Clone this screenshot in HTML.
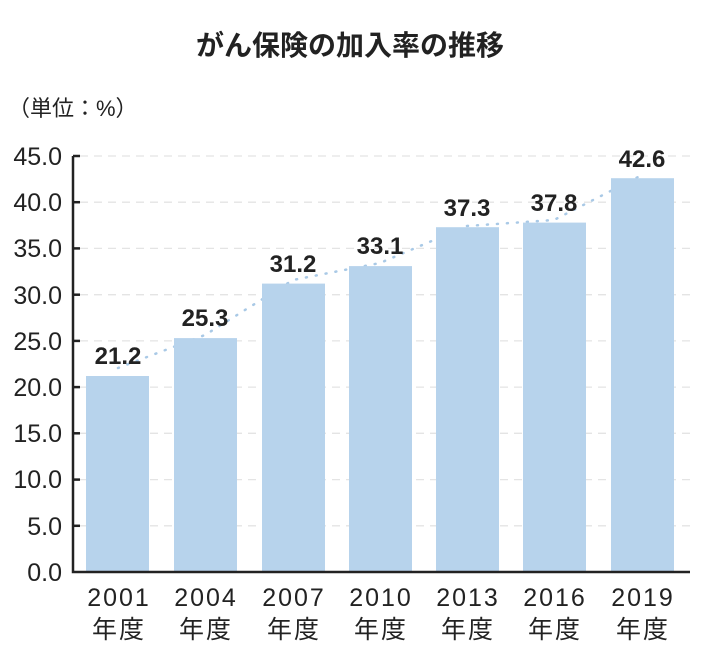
<!DOCTYPE html><html><head><meta charset="utf-8"><style>
body{margin:0;background:#fff;width:717px;height:654px;overflow:hidden}
svg text{font-family:"Liberation Sans","Noto Sans CJK JP",sans-serif;fill:#222}
</style></head><body>
<svg width="717" height="654" viewBox="0 0 717 654">
<text x="350" y="55" text-anchor="middle" font-size="28" font-weight="bold" fill="#111">がん保険の加入率の推移</text>
<text x="8" y="116" font-size="22" fill="#333">（単位：%）</text>
<g stroke="#e4e4e4" stroke-width="1.3" stroke-dasharray="8,6">
<line x1="80" x2="690" y1="156" y2="156"/><line x1="80" x2="690" y1="202.2" y2="202.2"/><line x1="80" x2="690" y1="248.4" y2="248.4"/><line x1="80" x2="690" y1="294.7" y2="294.7"/><line x1="80" x2="690" y1="340.9" y2="340.9"/><line x1="80" x2="690" y1="387.1" y2="387.1"/><line x1="80" x2="690" y1="433.3" y2="433.3"/><line x1="80" x2="690" y1="479.6" y2="479.6"/><line x1="80" x2="690" y1="525.8" y2="525.8"/>
</g>
<polyline fill="none" stroke="#a9c9e6" stroke-width="2.5" stroke-dasharray="1,9" stroke-linecap="round" points="118,368 205,335 293,280 380,263 467,226 554,220 642,175"/>
<g fill="#b7d3ec">
<rect x="86" y="376" width="63" height="196"/>
<rect x="174" y="338.1" width="63" height="233.9"/>
<rect x="262" y="283.6" width="63" height="288.4"/>
<rect x="349" y="266.1" width="63" height="305.9"/>
<rect x="436" y="227.2" width="63" height="344.8"/>
<rect x="523" y="222.6" width="63" height="349.4"/>
<rect x="611" y="178.2" width="63" height="393.8"/>
</g>
<g font-size="24" font-weight="bold" text-anchor="middle" fill="#222">
<text x="118" y="364">21.2</text><text x="205" y="326">25.3</text><text x="293" y="272">31.2</text><text x="380" y="254">33.1</text><text x="467" y="216">37.3</text><text x="554" y="211">37.8</text><text x="642" y="167">42.6</text>
</g>
<g stroke="#222" stroke-width="2.5" fill="none">
<polyline points="73,156 73,572 690,572"/>
<line x1="73" x2="80" y1="156" y2="156"/><line x1="73" x2="80" y1="202.2" y2="202.2"/><line x1="73" x2="80" y1="248.4" y2="248.4"/><line x1="73" x2="80" y1="294.7" y2="294.7"/><line x1="73" x2="80" y1="340.9" y2="340.9"/><line x1="73" x2="80" y1="387.1" y2="387.1"/><line x1="73" x2="80" y1="433.3" y2="433.3"/><line x1="73" x2="80" y1="479.6" y2="479.6"/><line x1="73" x2="80" y1="525.8" y2="525.8"/>
</g>
<g font-size="25" text-anchor="end" fill="#333">
<text x="62" y="165">45.0</text><text x="62" y="211">40.0</text><text x="62" y="257">35.0</text><text x="62" y="304">30.0</text><text x="62" y="350">25.0</text><text x="62" y="396">20.0</text><text x="62" y="442">15.0</text><text x="62" y="488">10.0</text><text x="62" y="535">5.0</text><text x="62" y="581">0.0</text>
</g>
<g font-size="25" text-anchor="middle" fill="#333" letter-spacing="2">
<text x="119" y="606">2001</text><text x="206" y="606">2004</text><text x="294" y="606">2007</text><text x="381" y="606">2010</text><text x="468" y="606">2013</text><text x="555" y="606">2016</text><text x="643" y="606">2019</text>
<text x="119" y="638">年度</text><text x="206" y="638">年度</text><text x="294" y="638">年度</text><text x="381" y="638">年度</text><text x="468" y="638">年度</text><text x="555" y="638">年度</text><text x="643" y="638">年度</text>
</g>
</svg></body></html>
